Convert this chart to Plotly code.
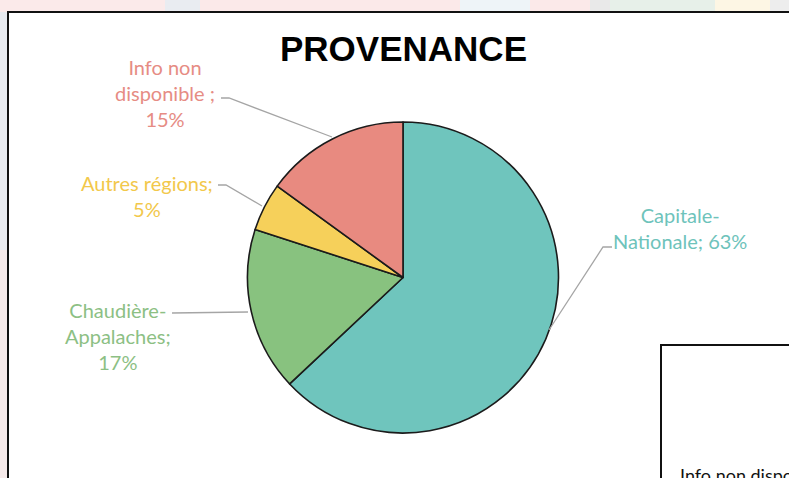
import plotly.graph_objects as go

# Provenance breakdown (percent)
regions = ["Capitale-Nationale", "Chaudière-Appalaches", "Autres régions", "Info non disponible"]
label_text = ["Capitale-<br>Nationale;", "Chaudière-<br>Appalaches;", "Autres régions;", "Info non<br>disponible ;"]
shares = [63, 17, 5, 15]
slice_colors = ["#6FC5BD", "#88C27F", "#F6D05A", "#E88A80"]
text_colors = ["#6EC3BB", "#8CC084", "#F2C84B", "#E68C84"]

W, H = 789, 478
cx, cy, r = 403, 277.5, 155.5

fig = go.Figure()

fig.add_trace(go.Pie(
    labels=regions,
    values=shares,
    sort=False,
    direction="clockwise",
    rotation=0,
    textinfo="none",
    hoverinfo="label+percent",
    marker=dict(colors=slice_colors, line=dict(color="#1b1b1b", width=1.6)),
    domain=dict(x=[(cx - r) / W, (cx + r) / W],
                y=[(H - cy - r) / H, (H - cy + r) / H]),
    showlegend=False,
))

shapes = []
# faint backdrop patches around the panel
backdrop = [
    (0, 0, 165, 12, "#FBEAEA"), (165, 0, 200, 12, "#E9ECF1"), (200, 0, 460, 12, "#FBE9E9"),
    (460, 0, 530, 12, "#EEF4F8"), (530, 0, 590, 12, "#FBE9E9"), (590, 0, 610, 12, "#E9E9E9"),
    (610, 0, 715, 12, "#E7F0E9"), (715, 0, 770, 12, "#FDF6E4"), (770, 0, 789, 12, "#EDEDED"),
    (0, 12, 8, 250, "#E8EAEF"), (0, 250, 8, 478, "#F6EAEA"),
]
for x0, y0, x1, y1, c in backdrop:
    shapes.append(dict(type="rect", xref="x", yref="y", x0=x0, y0=y0, x1=x1, y1=y1,
                       fillcolor=c, line=dict(width=0), layer="below"))
# main white panel
shapes.append(dict(type="rect", xref="x", yref="y", x0=8, y0=12, x1=800, y1=490,
                   fillcolor="white", line=dict(color="#111111", width=2), layer="below"))
# neighbouring panel in the corner
shapes.append(dict(type="rect", xref="x", yref="y", x0=661, y0=345, x1=800, y1=490,
                   fillcolor="white", line=dict(color="#111111", width=2), layer="below"))

# leader lines from labels to slices
leaders = [
    "M 612 247 L 603 247 L 549 330",
    "M 172 313 L 248 312",
    "M 218 185 L 226 185 L 262 206",
    "M 221 98 L 229 98 L 332 137",
]
for p in leaders:
    shapes.append(dict(type="path", xref="x", yref="y", path=p,
                       line=dict(color="#A5A5A5", width=1.3)))

annotations = [
    dict(x=403, y=48, text="<b>PROVENANCE</b>", showarrow=False,
         font=dict(family="Liberation Sans, Arial", size=35, color="#000000")),
]

label_pos = [(680, 228), (118, 336), (147, 196), (165, 93)]
for i, (lx, ly) in enumerate(label_pos):
    if i == 0:
        txt = f"{label_text[i]} {shares[i]}%"
    else:
        txt = f"{label_text[i]}<br>{shares[i]}%"
    annotations.append(dict(x=lx, y=ly, text=txt, showarrow=False, align="center",
                            font=dict(family="Lato", size=20, color=text_colors[i])))

annotations.append(dict(x=678, y=475, text="Info non disponible ;", showarrow=False,
                        xanchor="left", yanchor="middle",
                        font=dict(family="Lato", size=18, color="#111111")))

fig.update_layout(
    width=W, height=H,
    margin=dict(l=0, r=0, t=0, b=0),
    paper_bgcolor="#F1EEF0",
    plot_bgcolor="rgba(0,0,0,0)",
    xaxis=dict(range=[0, W], visible=False, fixedrange=True, domain=[0, 1]),
    yaxis=dict(range=[H, 0], visible=False, fixedrange=True, domain=[0, 1]),
    shapes=shapes,
    annotations=annotations,
)

fig.write_html("out.html")
